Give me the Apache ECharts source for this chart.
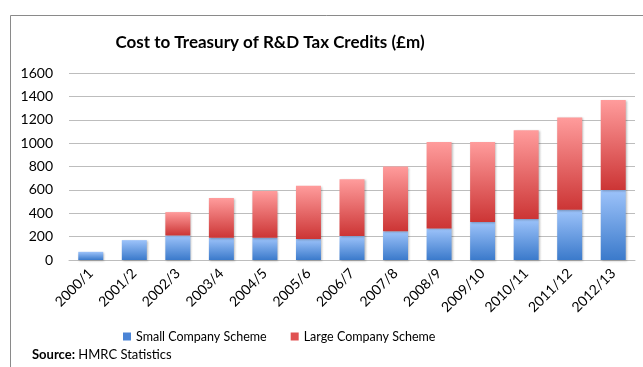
<!DOCTYPE html>
<html>
<head>
<meta charset="utf-8">
<script src="https://cdn.jsdelivr.net/npm/echarts@6/dist/echarts.min.js"></script>
<style>
  html, body { margin: 0; padding: 0; background: #fff; }
  #chart { width: 643px; height: 367px; }
</style>
</head>
<body>
<div id="chart"></div>
<script>
// Fiscal years
const years = ['2000/1', '2001/2', '2002/3', '2003/4', '2004/5', '2005/6', '2006/7',
               '2007/8', '2008/9', '2009/10', '2010/11', '2011/12', '2012/13'];
// Cost of each scheme, £m
const smallScheme = [70, 170, 210, 190, 190, 180, 205, 245, 270, 325, 350, 430, 600];
const largeScheme = [0, 0, 200, 340, 400, 455, 485, 555, 740, 685, 760, 790, 770];
// Value axis ticks
const yTicks = [0, 200, 400, 600, 800, 1000, 1200, 1400, 1600];

const FONT = 'Lato, "Open Sans", sans-serif';

function vGrad(top, bottom) {
  return new echarts.graphic.LinearGradient(0, 0, 0, 1, [
    { offset: 0, color: top },
    { offset: 1, color: bottom }
  ]);
}

const chart = echarts.init(document.getElementById('chart'), null, { renderer: 'canvas' });

chart.setOption({
  backgroundColor: '#ffffff',
  animation: false,
  grid: { left: 69, right: 8, top: 73, bottom: 107, containLabel: false },
  legend: {
    top: 325,
    left: 118,
    padding: 5,
    orient: 'horizontal',
    itemWidth: 8,
    itemHeight: 8,
    itemGap: 24,
    icon: 'rect',
    textStyle: { fontFamily: FONT, fontSize: 12.5, color: '#000' },
    data: [
      { name: 'Small Company Scheme', itemStyle: { color: '#4a84d6' } },
      { name: 'Large Company Scheme', itemStyle: { color: '#e05252' } }
    ]
  },
  xAxis: {
    type: 'category',
    data: years,
    axisTick: { show: false },
    axisLine: { lineStyle: { color: '#bdbdbd', width: 1 } },
    axisLabel: {
      rotate: 45,
      margin: 11,
      interval: 0,
      fontFamily: FONT,
      fontSize: 14,
      color: '#000'
    }
  },
  yAxis: {
    type: 'value',
    min: yTicks[0],
    max: yTicks[yTicks.length - 1],
    interval: yTicks[1] - yTicks[0],
    axisLine: { show: false },
    axisTick: { show: false },
    splitLine: { lineStyle: { color: '#bdbdbd', width: 1 } },
    axisLabel: {
      fontFamily: FONT, fontSize: 14, color: '#000', margin: 16,
      formatter: v => String(v)
    }
  },
  series: [
    {
      name: 'Small Company Scheme',
      type: 'bar',
      stack: 'total',
      barWidth: 25,
      data: smallScheme,
      itemStyle: {
        color: vGrad('#9dc3fa', '#3b7acb'),
        shadowColor: 'rgba(0,0,0,0.25)',
        shadowBlur: 2,
        shadowOffsetX: 1,
        shadowOffsetY: 1
      }
    },
    {
      name: 'Large Company Scheme',
      type: 'bar',
      stack: 'total',
      barWidth: 25,
      data: largeScheme,
      itemStyle: {
        color: vGrad('#ff9c9c', '#cc3535'),
        shadowColor: 'rgba(0,0,0,0.25)',
        shadowBlur: 2,
        shadowOffsetX: 1,
        shadowOffsetY: 1
      }
    }
  ],
  graphic: [
    {
      type: 'polyline',
      shape: { points: [[10.5, 367], [10.5, 15.5], [643, 15.5]] },
      style: { stroke: '#8a8a8a', lineWidth: 1, fill: null }
    },
    {
      type: 'text',
      x: 270,
      y: 43,
      style: {
        text: 'Cost to Treasury of R&D Tax Credits (£m)',
        align: 'center',
        verticalAlign: 'middle',
        fontFamily: FONT,
        fontSize: 17,
        fontWeight: 'bold',
        fill: '#000'
      }
    },
    {
      type: 'text',
      left: 32,
      top: 348,
      style: {
        rich: {
          b: { fontFamily: FONT, fontSize: 13, fontWeight: 'bold', fill: '#000' },
          n: { fontFamily: FONT, fontSize: 13, fill: '#000' }
        },
        text: '{b|Source:}{n| HMRC Statistics}'
      }
    }
  ]
});
</script>
</body>
</html>
